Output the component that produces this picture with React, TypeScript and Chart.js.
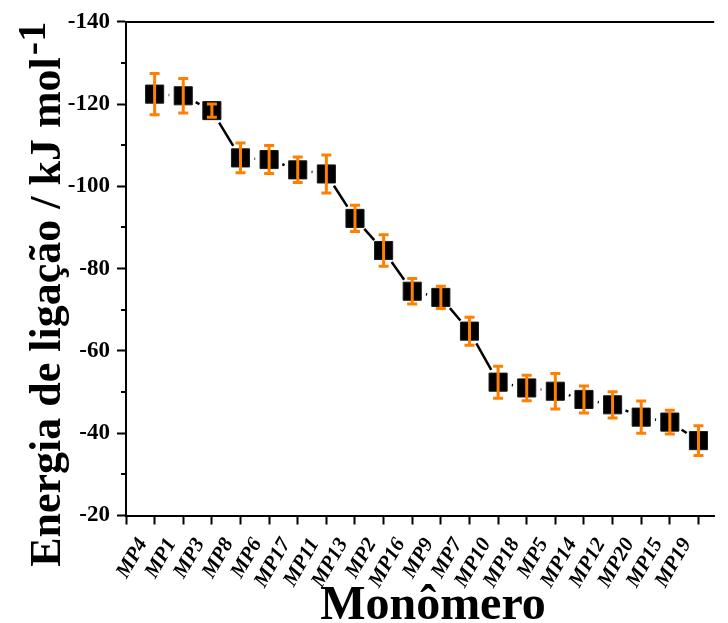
import React, { useEffect, useRef } from 'react';
import { Chart, registerables } from 'chart.js';

Chart.register(...registerables);

// Monomers ordered by binding energy (kJ/mol) with their standard deviations
const monomers = ['MP4', 'MP1', 'MP3', 'MP8', 'MP6', 'MP17', 'MP11', 'MP13', 'MP2', 'MP16', 'MP9', 'MP7', 'MP10', 'MP18', 'MP5', 'MP14', 'MP12', 'MP20', 'MP15', 'MP19'];
const bindingEnergy = [-122.4, -122.0, -118.4, -106.9, -106.5, -104.0, -103.0, -92.2, -84.4, -74.5, -73.0, -64.8, -52.4, -51.0, -50.2, -48.2, -46.9, -43.9, -42.7, -38.2];
const energyError = [5.0, 4.2, 1.6, 3.6, 3.4, 3.1, 4.6, 3.2, 3.8, 3.1, 2.7, 3.4, 3.9, 3.1, 4.3, 3.3, 3.2, 3.9, 2.9, 3.6];
const yMinorTicks = [-130, -110, -90, -70, -50, -30];

const SERIF = '"Liberation Serif", "Times New Roman", Times, serif';
const ORANGE = '#FF8000';
const LINE_GAP = 14;

// Connector segments between markers, interrupted around each marker
const gappedConnector = {
  id: 'gappedConnector',
  beforeDatasetsDraw(chart: any) {
    const pts = chart.getDatasetMeta(0).data;
    const ctx = chart.ctx;
    ctx.save();
    ctx.strokeStyle = '#000';
    ctx.lineWidth = 2.5;
    for (let i = 0; i < pts.length - 1; i++) {
      const a = pts[i];
      const b = pts[i + 1];
      const dx = b.x - a.x;
      const dy = b.y - a.y;
      const len = Math.hypot(dx, dy);
      if (len <= 2 * LINE_GAP) continue;
      const ux = dx / len;
      const uy = dy / len;
      ctx.beginPath();
      ctx.moveTo(a.x + ux * LINE_GAP, a.y + uy * LINE_GAP);
      ctx.lineTo(b.x - ux * LINE_GAP, b.y - uy * LINE_GAP);
      ctx.stroke();
    }
    ctx.restore();
  },
};

// Orange error bars with caps, drawn over the markers
const errorBars = {
  id: 'errorBars',
  afterDatasetsDraw(chart: any) {
    const { ctx, scales } = chart;
    const xs = scales.x;
    const ys = scales.y;
    ctx.save();
    ctx.strokeStyle = ORANGE;
    ctx.lineWidth = 3;
    bindingEnergy.forEach((v, i) => {
      const x = xs.getPixelForValue(i + 1);
      const y1 = ys.getPixelForValue(v - energyError[i]);
      const y2 = ys.getPixelForValue(v + energyError[i]);
      ctx.beginPath();
      ctx.moveTo(x, y1);
      ctx.lineTo(x, y2);
      ctx.moveTo(x - 5, y1);
      ctx.lineTo(x + 5, y1);
      ctx.moveTo(x - 5, y2);
      ctx.lineTo(x + 5, y2);
      ctx.stroke();
    });
    ctx.restore();
  },
};

// Top frame line, minor ticks, slanted category labels and axis titles
const frameAndTitles = {
  id: 'frameAndTitles',
  afterDraw(chart: any) {
    const { ctx, chartArea, scales } = chart;
    ctx.save();
    ctx.strokeStyle = '#000';
    ctx.lineWidth = 2;
    ctx.beginPath();
    ctx.moveTo(chartArea.left - 1, Math.round(chartArea.top));
    ctx.lineTo(chartArea.right, Math.round(chartArea.top));
    ctx.stroke();

    yMinorTicks.forEach((v) => {
      const y = Math.round(scales.y.getPixelForValue(v));
      ctx.beginPath();
      ctx.moveTo(chartArea.left - 5, y);
      ctx.lineTo(chartArea.left, y);
      ctx.stroke();
    });

    ctx.fillStyle = '#000';
    ctx.font = `italic bold 21px ${SERIF}`;
    ctx.textAlign = 'right';
    ctx.textBaseline = 'alphabetic';
    monomers.forEach((name, i) => {
      const x = scales.x.getPixelForValue(i + 1);
      ctx.save();
      ctx.translate(x - 7, chartArea.bottom + 27.5);
      ctx.rotate(-Math.PI / 3);
      ctx.fillText(name, 0, 0);
      ctx.restore();
    });

    ctx.font = `bold 48px ${SERIF}`;
    ctx.textAlign = 'center';
    ctx.fillText('Monômero', 433, 619);

    const main = 'Energia de ligação / kJ mol';
    const sup = '-1';
    ctx.translate(60, 312);
    ctx.rotate(-Math.PI / 2);
    ctx.font = `bold 44px ${SERIF}`;
    const w = ctx.measureText(main).width;
    ctx.textAlign = 'left';
    ctx.fillText(main, -w / 2, 0);
    ctx.font = `bold 40px ${SERIF}`;
    ctx.fillText(sup, w / 2 + 2, -15);
    ctx.restore();
  },
};

export default function App() {
  const canvasRef = useRef<HTMLCanvasElement | null>(null);

  useEffect(() => {
    const canvas = canvasRef.current;
    if (!canvas) return;
    const chart = new Chart(canvas, {
      type: 'scatter',
      data: {
        datasets: [
          {
            data: bindingEnergy.map((v, i) => ({ x: i + 1, y: v })),
            showLine: false,
            pointStyle: 'rect',
            pointRadius: 12.8,
            pointHoverRadius: 12.8,
            backgroundColor: '#000',
            borderColor: '#1a1a1a',
            borderWidth: 1,
          },
        ],
      },
      options: {
        responsive: false,
        animation: false,
        events: [],
        layout: { padding: { top: 21.7, right: 0, left: 0, bottom: 0 } },
        plugins: {
          legend: { display: false },
          tooltip: { enabled: false },
        },
        scales: {
          x: {
            type: 'linear',
            min: 0,
            max: 20.55,
            afterFit: (s: any) => {
              s.height = 107.5;
            },
            border: { display: true, color: '#000', width: 2 },
            grid: { drawOnChartArea: false, color: '#000', tickLength: 9, tickWidth: 2 },
            ticks: {
              stepSize: 1,
              autoSkip: false,
              includeBounds: false,
              maxRotation: 0,
              color: '#000',
              callback: () => '',
            },
          },
          y: {
            type: 'linear',
            reverse: true,
            min: -140,
            max: -20,
            afterFit: (s: any) => {
              s.width = 126;
            },
            border: { display: true, color: '#000', width: 2 },
            grid: { drawOnChartArea: false, color: '#000', tickLength: 9, tickWidth: 2 },
            ticks: {
              stepSize: 20,
              padding: 7,
              color: '#000',
              font: { family: SERIF, size: 23, weight: 'bold' },
              callback: (v: any) => String(v),
            },
          },
        },
      },
      plugins: [gappedConnector, errorBars, frameAndTitles],
    });
    return () => chart.destroy();
  }, []);

  return (
    <div style={{ position: 'fixed', left: 0, top: 0, width: 728, height: 623, background: '#fff' }}>
      <canvas ref={canvasRef} width={728} height={623} style={{ display: 'block' }} />
    </div>
  );
}
